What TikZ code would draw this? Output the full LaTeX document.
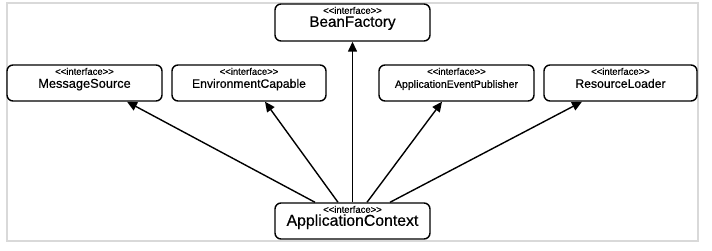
\documentclass[tikz,border=0pt]{standalone}
\usepackage{fontspec}
\setmainfont{Liberation Sans}[FakeBold=0.5]
\usetikzlibrary{arrows.meta}
\newcommand{\ifacetag}{<\kern0pt<interface>\kern0pt>}

\begin{document}
\begin{tikzpicture}[x=1pt, y=-1pt,
      box/.style={draw, fill=white, line width=1.4pt, rounded corners=6pt,
                  minimum height=36pt, inner sep=0pt},
      tag/.style={font=\fontsize{9.5}{10}\selectfont, anchor=base, inner sep=0pt},
      impl/.style={line width=1.4pt, -{Triangle[length=10pt, width=9pt]}},
      ]
      % canvas and frame
      \useasboundingbox (0,0) rectangle (712,251);
      \draw[black!15, line width=2pt] (7,3) rectangle (698,241);

      % interface boxes
      \foreach \n/\x/\y/\w/\h/\fs/\lab in {
            bean/352.5/22.5/155/37/15.2/BeanFactory,
            msg/84.5/83/155/36/12.8/MessageSource,
            env/249/83/154/36/12.2/EnvironmentCapable,
            pub/456.5/83/155/36/10.6/ApplicationEventPublisher,
            res/620.5/83/153/36/12.2/ResourceLoader,
            ctx/352.5/221/155/36/15.8/ApplicationContext}{
            \node[box, minimum width=\w pt, minimum height=\h pt] (\n) at (\x,\y) {};
            \node[tag] (\n tag) at ([yshift=-10.5pt]\n.north) {\ifacetag};
            \node[anchor=base, inner sep=0pt, font=\fontsize{\fs}{\fs}\selectfont]
            (\n name) at ([yshift=-23.5pt]\n.north) {\lab};
            }

      % ApplicationContext extends all of them
      \draw[impl] ([xshift=-37.5pt]ctx.north) -- ([xshift=42.5pt]msg.south);
      \draw[impl] ([xshift=-14.5pt]ctx.north) -- ([xshift=16pt]env.south);
      \draw[impl] (ctx.north) -- (bean.south);
      \draw[impl] ([xshift=14.5pt]ctx.north) -- ([xshift=-14.5pt]pub.south);
      \draw[impl] ([xshift=37.5pt]ctx.north) -- ([xshift=-38.5pt]res.south);
\end{tikzpicture}
\end{document}
